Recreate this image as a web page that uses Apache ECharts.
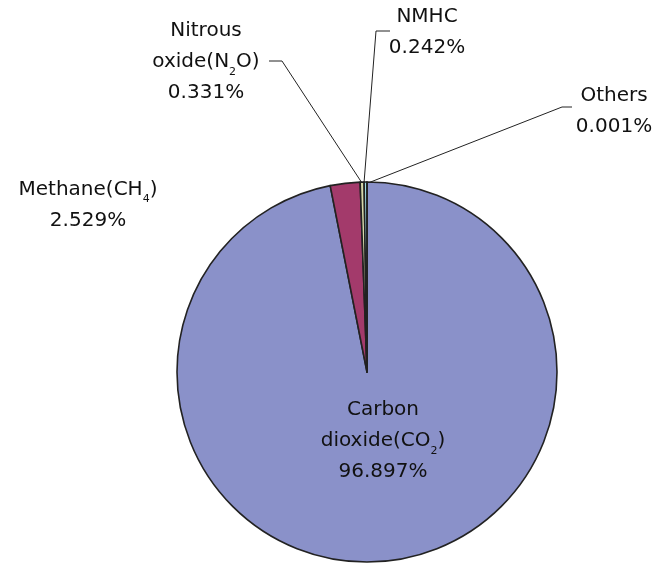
<!DOCTYPE html>
<html><head><meta charset="utf-8">
<script src="https://cdn.jsdelivr.net/npm/echarts@6/dist/echarts.min.js"></script>
<style>html,body{margin:0;padding:0;background:#fff}#c{width:665px;height:563px}</style>
</head><body><div id="c"></div>
<script>
const names = ['Carbon dioxide(CO2)', 'Methane(CH4)', 'Nitrous oxide(N2O)', 'NMHC', 'Others'];
const labelTexts = ['Carbon\ndioxide({s|CO}{sub|2}{s|)}', 'Methane({s|CH}{sub|4}{s|)}', 'Nitrous\noxide({s|N}{sub|2}{s|O)}', 'NMHC', 'Others'];
const values = [96.897, 2.529, 0.331, 0.242, 0.001];
const valueTexts = ['96.897%', '2.529%', '0.331%', '0.242%', '0.001%'];
const colors = ['#8a91c9', '#a33a6b', '#d6d8a8', '#a0dce4', '#f0f0d0'];

const labelPos = [
  {x: 383, y: 441},
  {x: 88, y: 205},
  {x: 206, y: 62},
  {x: 427, y: 32},
  {x: 614, y: 111}
];
const linePts = [
  null,
  null,
  [[269, 61], [282, 61], [362, 183]],
  [[390, 31], [376, 31], [364, 183]],
  [[572, 107], [562, 107], [368, 183]]
];

const chart = echarts.init(document.getElementById('c'));
const font = '"DejaVu Sans", sans-serif';
chart.setOption({
  animation: false,
  series: [{
    type: 'pie',
    center: [367, 372],
    radius: 190,
    startAngle: 90,
    clockwise: true,
    avoidLabelOverlap: false,
    itemStyle: { borderColor: '#222', borderWidth: 1.6 },
    label: {
      show: true,
      position: 'outside',
      color: '#111',
      fontFamily: font,
      fontSize: 20,
      lineHeight: 31,
      align: 'center',
      formatter: p => labelTexts[p.dataIndex] + '\n' + valueTexts[p.dataIndex],
      rich: {
        s: { fontFamily: font, fontSize: 20, color: '#111', lineHeight: 31 },
        sub: { fontFamily: font, fontSize: 11, color: '#111', lineHeight: 31, verticalAlign: 'bottom', padding: [3, 0, 0, 0] }
      }
    },
    labelLine: { show: true, lineStyle: { color: '#222', width: 1 } },
    labelLayout: p => {
      const i = p.dataIndex;
      const o = { x: labelPos[i].x, y: labelPos[i].y, align: 'center', verticalAlign: 'middle' };
      if (linePts[i]) o.labelLinePoints = linePts[i];
      return o;
    },
    emphasis: { disabled: true },
    data: names.map((n, i) => ({
      name: n,
      value: values[i],
      itemStyle: { color: colors[i] },
      labelLine: { show: !!linePts[i] }
    }))
  }]
});
</script></body></html>
